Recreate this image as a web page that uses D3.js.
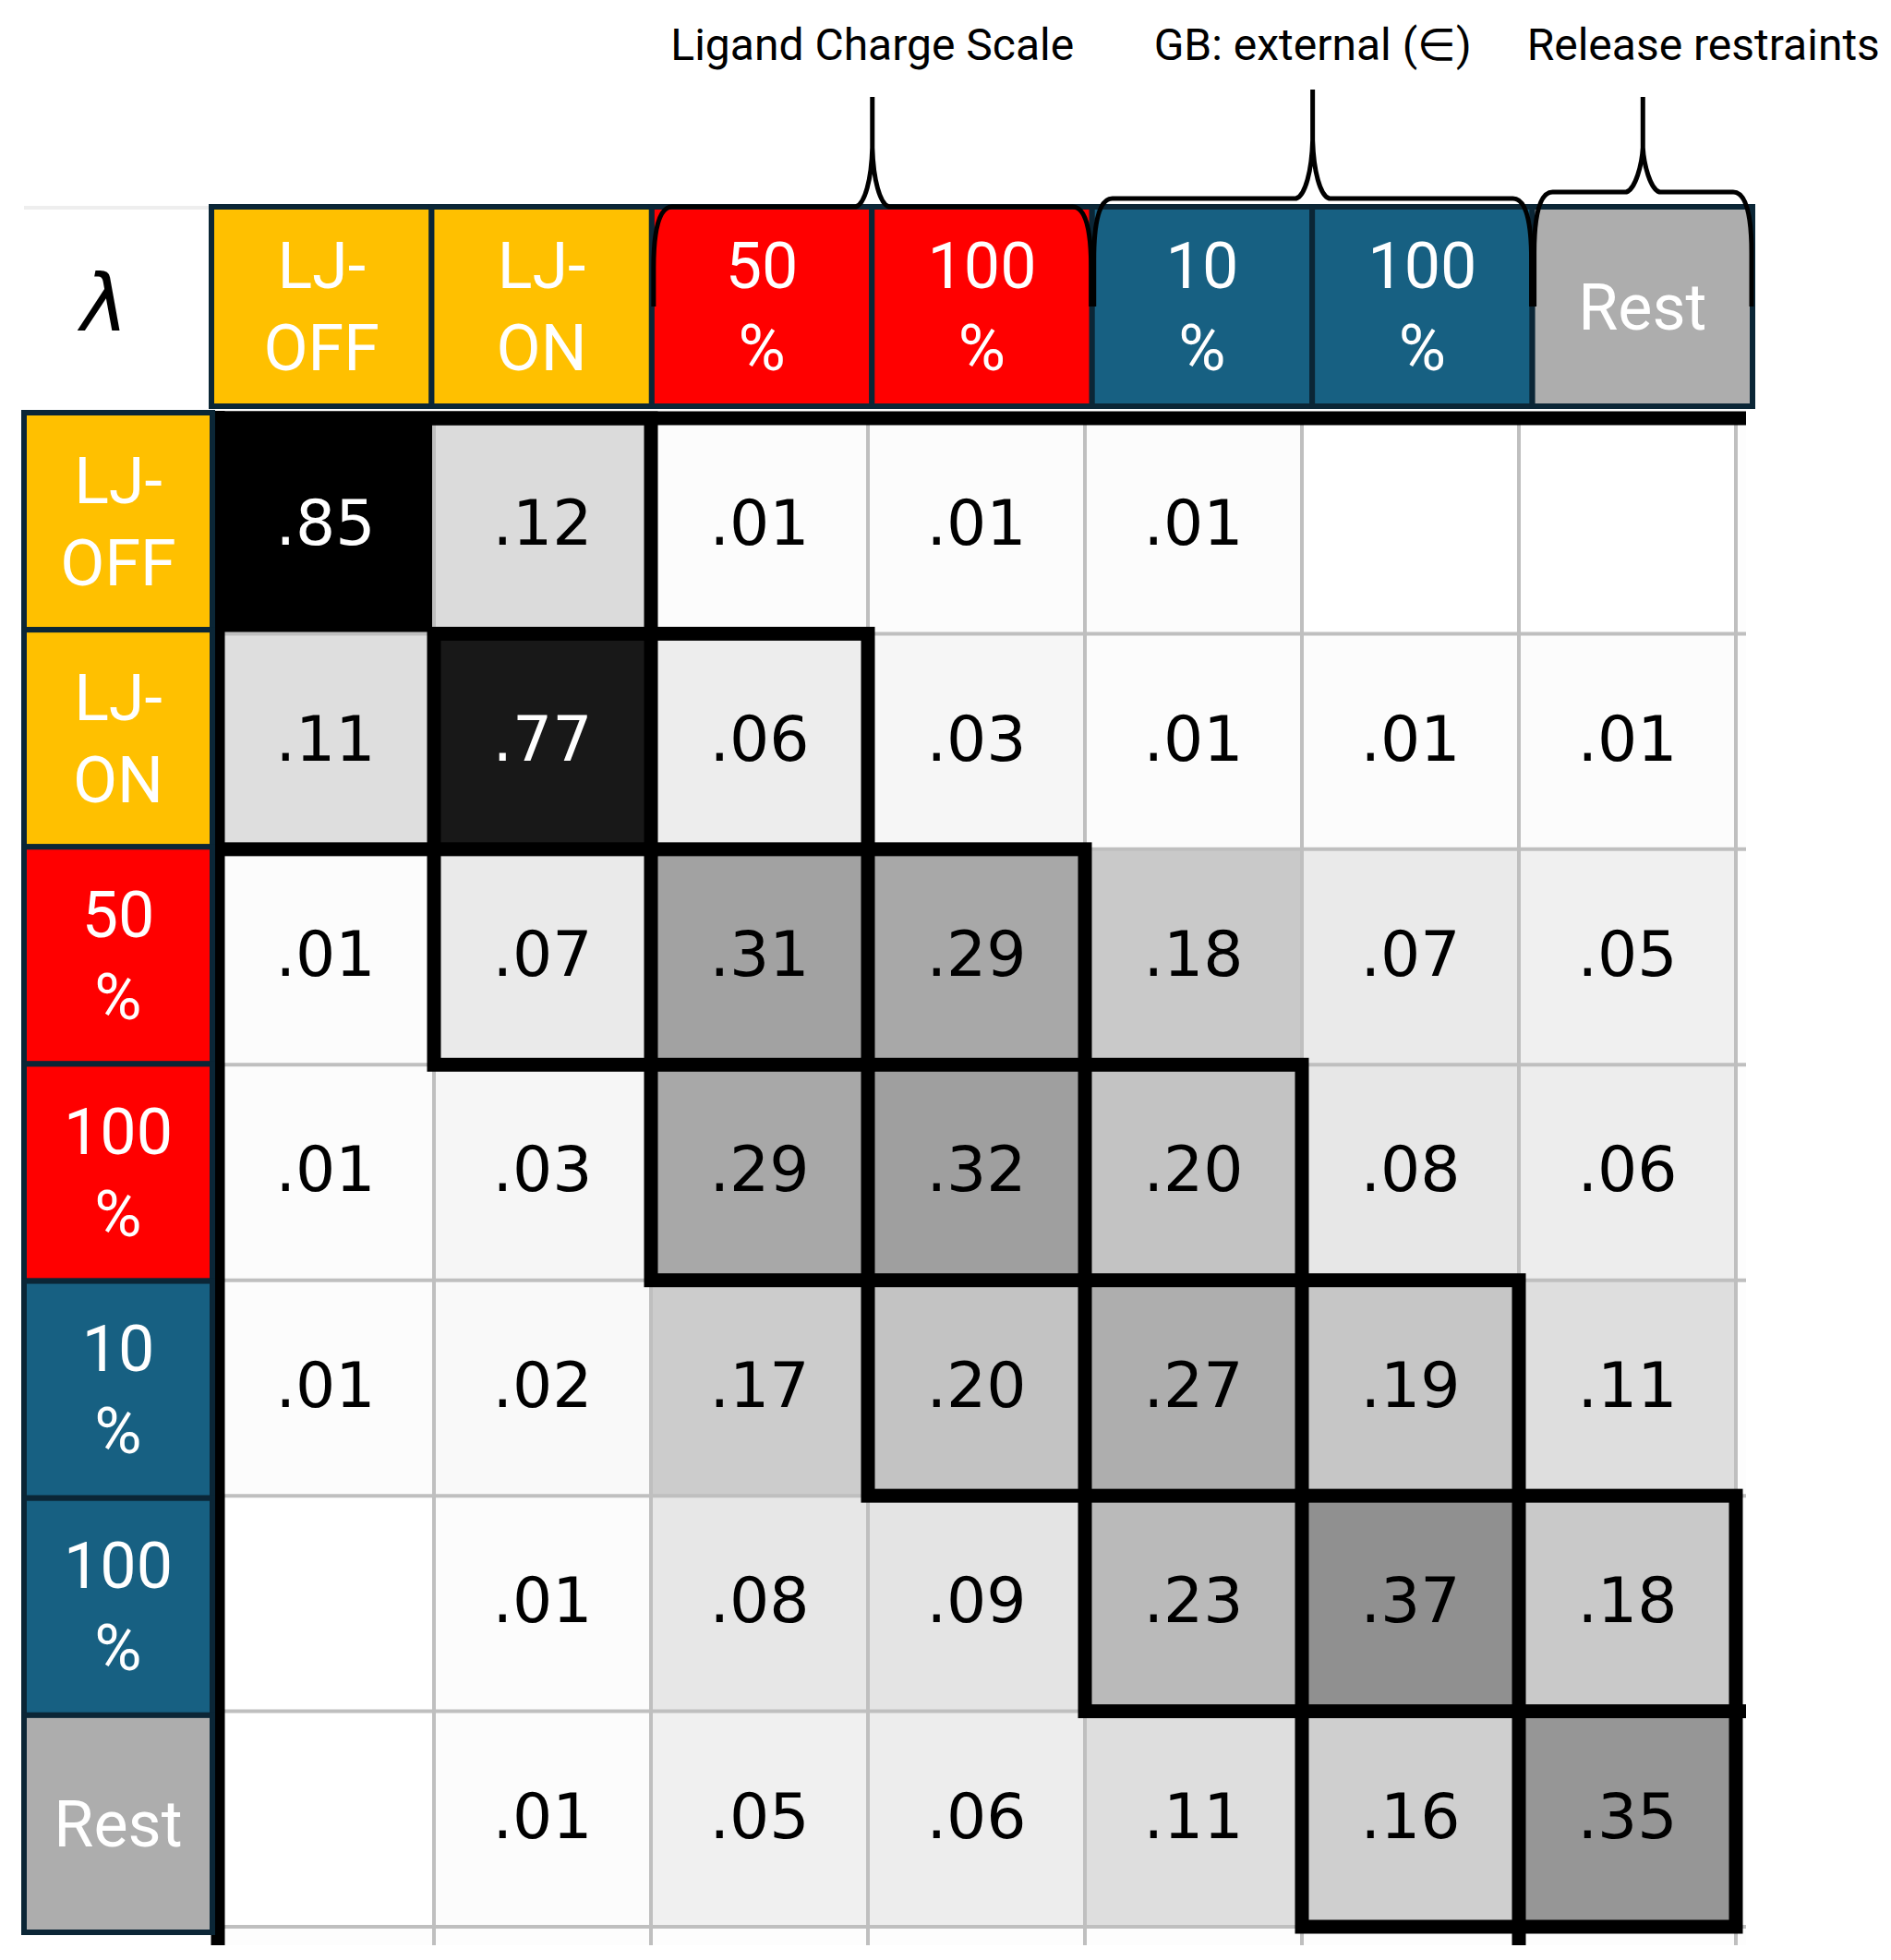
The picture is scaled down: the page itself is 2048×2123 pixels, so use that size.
<!DOCTYPE html>
<html>
<head>
<meta charset="utf-8">
<script src="https://cdn.jsdelivr.net/npm/d3@7"></script>
<style>
  html, body { margin: 0; padding: 0; background: #fff; }
  svg { display: block; }
</style>
</head>
<body>
<svg id="chart"></svg>
<script>
// lambda states (row and column order)
const stateIds = [0, 1, 2, 3, 4, 5, 6];
const stateLabels = [["LJ-", "OFF"], ["LJ-", "ON"], ["50", "%"], ["100", "%"], ["10", "%"], ["100", "%"], ["Rest"]];
const stateGroups = ["lj", "lj", "charge", "charge", "gb", "gb", "rest"];

// overlap matrix, one array per row (null = below .01, left blank)
const rowLJOff   = [.85, .12, .01, .01, .01, null, null];
const rowLJOn    = [.11, .77, .06, .03, .01, .01, .01];
const rowCharge50  = [.01, .07, .31, .29, .18, .07, .05];
const rowCharge100 = [.01, .03, .29, .32, .20, .08, .06];
const rowGB10    = [.01, .02, .17, .20, .27, .19, .11];
const rowGB100   = [null, .01, .08, .09, .23, .37, .18];
const rowRest    = [null, .01, .05, .06, .11, .16, .35];
const overlap = [rowLJOff, rowLJOn, rowCharge50, rowCharge100, rowGB10, rowGB100, rowRest];

// brace annotations over the column headers
const braceLabels = ["Ligand Charge Scale", "GB: external (\u2208)", "Release restraints"];
const braceFirst = [2, 4, 6];
const braceLast = [3, 5, 6];

const W = 2048, H = 2123;
const navy = "#0b2636";

const svg = d3.select("#chart").attr("width", W).attr("height", H);

const groupColor = d3.scaleOrdinal()
  .domain(["lj", "charge", "gb", "rest"])
  .range(["#FFC000", "#FF0000", "#176082", "#ADADAD"]);

// heatmap scales
const x = d3.scaleBand().domain(stateIds).range([235, 1880]);
const y = d3.scaleBand().domain(stateIds).range([453, 2087]);
// header scales
const xHead = d3.scaleBand().domain(stateIds).range([229, 1898]);
const yHead = d3.scaleBand().domain(stateIds).range([447, 2093]);

const maxVal = d3.max(overlap.flat());
const grey = d3.scaleLinear().domain([0, maxVal]).range(["#ffffff", "#000000"]);

// ---- heatmap ----
svg.append("clipPath").attr("id", "hmclip")
  .append("rect").attr("x", 228).attr("y", 440).attr("width", 1891 - 228).attr("height", 2107 - 440);

const hm = svg.append("g").attr("clip-path", "url(#hmclip)");

hm.append("rect")
  .attr("x", 235).attr("y", 453).attr("width", 1891 - 235).attr("height", 2107 - 453)
  .attr("fill", "#fdfdfd");

const cells = [];
overlap.forEach((row, i) => row.forEach((v, j) => cells.push({ i, j, v })));

hm.selectAll(".cell")
  .data(cells)
  .enter().append("rect")
  .attr("class", "cell")
  .attr("x", d => x(d.j))
  .attr("y", d => y(d.i))
  .attr("width", x.bandwidth())
  .attr("height", y.bandwidth())
  .attr("fill", d => grey(d.v || 0));

// thin grid lines (one extra past the last state, the picture is cropped there)
const step = x.bandwidth(), stepY = y.bandwidth();
const gridIdx = d3.range(1, 9);
hm.selectAll(".vgrid")
  .data(gridIdx)
  .enter().append("line")
  .attr("x1", k => 235 + k * step).attr("x2", k => 235 + k * step)
  .attr("y1", 453).attr("y2", 2107)
  .attr("stroke", "#bfbfbf").attr("stroke-width", 4);
hm.selectAll(".hgrid")
  .data(gridIdx)
  .enter().append("line")
  .attr("y1", k => 453 + k * stepY).attr("y2", k => 453 + k * stepY)
  .attr("x1", 235).attr("x2", 1891)
  .attr("stroke", "#bfbfbf").attr("stroke-width", 4);

// values
hm.selectAll(".val")
  .data(cells.filter(d => d.v !== null))
  .enter().append("text")
  .attr("class", "val")
  .attr("x", d => x(d.j) + step / 2)
  .attr("y", d => y(d.i) + stepY / 2)
  .attr("dy", "0.3em")
  .attr("text-anchor", "middle")
  .attr("font-family", "DejaVu Sans")
  .attr("font-size", 68)
  .attr("fill", d => d.v / maxVal > 0.5 ? "#fff" : "#000")
  .text(d => d3.format(".2f")(d.v).slice(1));

// thick 2x2 blocks along the diagonal
hm.selectAll(".block")
  .data(stateIds)
  .enter().append("rect")
  .attr("class", "block")
  .attr("x", i => 235 + i * step)
  .attr("y", i => 453 + i * stepY)
  .attr("width", 2 * step)
  .attr("height", 2 * stepY)
  .attr("fill", "none")
  .attr("stroke", "#000")
  .attr("stroke-width", 15);

// top and left frame
hm.append("line").attr("x1", 228).attr("x2", 1891).attr("y1", 453).attr("y2", 453)
  .attr("stroke", "#000").attr("stroke-width", 15);
hm.append("line").attr("x1", 236).attr("x2", 236).attr("y1", 445).attr("y2", 2107)
  .attr("stroke", "#000").attr("stroke-width", 15);

// ---- lambda corner ----
svg.append("line").attr("x1", 26).attr("x2", 228).attr("y1", 225).attr("y2", 225)
  .attr("stroke", "#eeeeee").attr("stroke-width", 4);
svg.append("text")
  .attr("x", 113).attr("y", 358)
  .attr("text-anchor", "middle")
  .attr("font-family", "DejaVu Sans")
  .attr("font-style", "italic")
  .attr("font-size", 86)
  .text("\u03bb");

// ---- label boxes ----
function labelText(g, lines, cx, cy) {
  const offs = lines.length === 1 ? [25] : [-20, 69];
  lines.forEach((t, k) => {
    g.append("text")
      .attr("x", cx).attr("y", cy + offs[k])
      .attr("text-anchor", "middle")
      .attr("font-family", "Roboto")
      .attr("font-size", 70)
      .attr("fill", "#fff")
      .text(t);
  });
}

const rowHead = svg.append("g");
stateIds.forEach(i => {
  rowHead.append("rect")
    .attr("x", 26).attr("y", yHead(i))
    .attr("width", 204).attr("height", yHead.bandwidth())
    .attr("fill", groupColor(stateGroups[i]))
    .attr("stroke", navy).attr("stroke-width", 6);
  labelText(rowHead, stateLabels[i], 128, yHead(i) + yHead.bandwidth() / 2);
});

const colHead = svg.append("g");
stateIds.forEach(j => {
  colHead.append("rect")
    .attr("x", xHead(j)).attr("y", 224)
    .attr("width", xHead.bandwidth()).attr("height", 216)
    .attr("fill", groupColor(stateGroups[j]))
    .attr("stroke", navy).attr("stroke-width", 6);
  labelText(colHead, stateLabels[j], xHead(j) + xHead.bandwidth() / 2, 332);
});

// ---- braces ----
function bracePath(x0, x1, yh, ytop, yb) {
  const xm = (x0 + x1) / 2;
  return `M${x0},${yb} L${x0},${yh + 66} C${x0},${yh + 25} ${x0 + 6},${yh} ${x0 + 20},${yh}` +
    ` L${xm - 18},${yh} C${xm - 8},${yh - 3} ${xm - 1},${yh - 30} ${xm},${ytop + 55} L${xm},${ytop}` +
    ` M${xm},${ytop + 55} C${xm + 1},${yh - 30} ${xm + 8},${yh - 3} ${xm + 18},${yh}` +
    ` L${x1 - 20},${yh} C${x1 - 6},${yh} ${x1},${yh + 25} ${x1},${yh + 66} L${x1},${yb}`;
}

// brace bar heights differ a little from one brace to the next
const braceBar = [224, 215, 208];
const braceTop = [105, 97, 105];

const braces = svg.append("g");
let prevRight = -Infinity;
braceLabels.forEach((label, k) => {
  const x0 = xHead(braceFirst[k]) + 2;
  const x1 = xHead(braceLast[k]) + xHead.bandwidth() - 1;
  braces.append("path")
    .attr("d", bracePath(x0, x1, braceBar[k], braceTop[k], 332))
    .attr("fill", "none")
    .attr("stroke", "#000")
    .attr("stroke-width", 5)
    .attr("stroke-linejoin", "round");
  const t = braces.append("text")
    .attr("x", (x0 + x1) / 2)
    .attr("y", 65)
    .attr("text-anchor", "middle")
    .attr("font-family", "Roboto, DejaVu Sans")
    .attr("font-size", 48)
    .text(label);
  // push a label right when it would run into the one before it
  const w = t.node().getComputedTextLength();
  const cx = Math.max((x0 + x1) / 2, prevRight + 60 + w / 2);
  t.attr("x", cx);
  prevRight = cx + w / 2;
});
</script>
</body>
</html>
